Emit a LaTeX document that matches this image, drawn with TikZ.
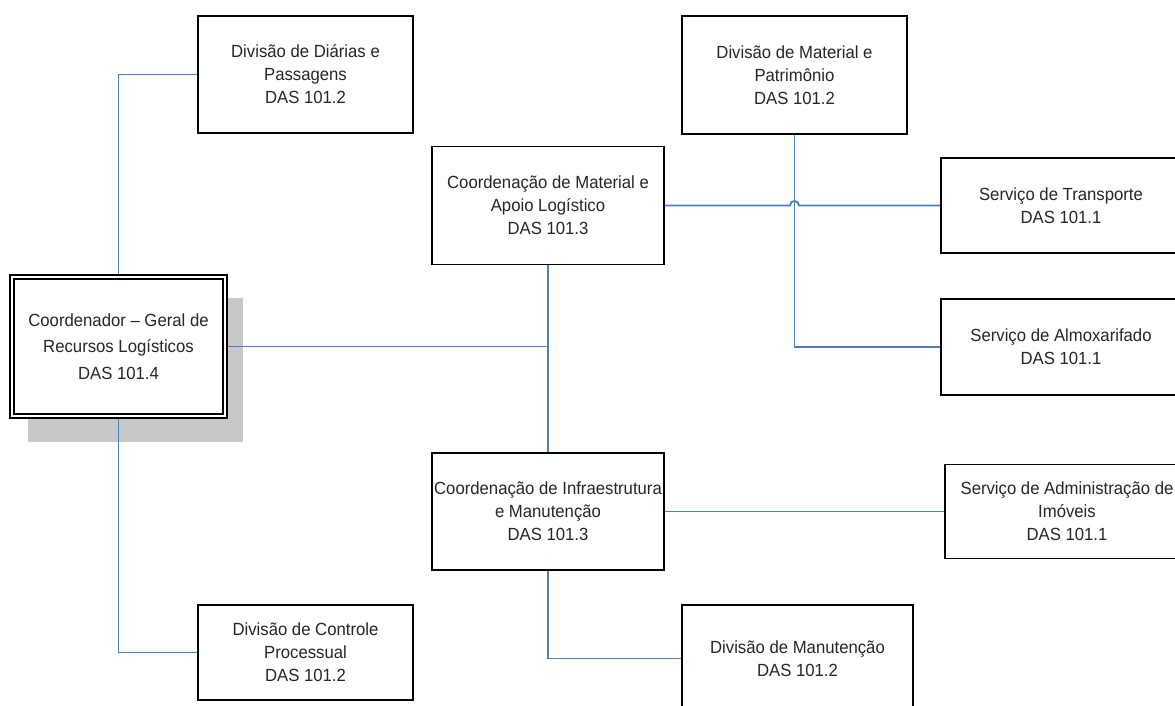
\documentclass[tikz,border=0pt]{standalone}
\usepackage{fontspec}
\setmainfont[FakeStretch=0.95]{Liberation Sans}
\definecolor{linkblue}{HTML}{4A7EC0}
\definecolor{shadowgray}{HTML}{C8C8C8}
\definecolor{txt}{HTML}{262626}
\begin{document}
\begin{tikzpicture}[x=1pt,y=-1pt,
  orgbox/.style={draw=black, line width=1.6pt, fill=white, rectangle, align=center, text=txt,
    font=\fontsize{17.6}{23}\selectfont, inner sep=0pt},
  link/.style={draw=linkblue, line width=1.8pt}]
\useasboundingbox (0,0) rectangle (1175,706);
\clip (0,0) rectangle (1175,706);

% shadow of root
\fill[shadowgray] (28,298) rectangle (243,442);

% nodes
\node[orgbox, minimum width=217pt, minimum height=143pt, line width=2pt,
  font=\fontsize{17.6}{26.5}\selectfont] (root) at (118.5,346.5)
  {Coordenador -- Geral de\\Recursos Logísticos\\DAS 101.4};
\draw[line width=1.4pt] (14,279) rectangle (223,414);

\node[orgbox, minimum width=215pt, minimum height=117pt] (dia) at (305.5,74.5)
  {Divisão de Diárias e\\Passagens\\DAS 101.2};
\node[orgbox, minimum width=215pt, minimum height=95pt] (ctl) at (305.5,652.5)
  {Divisão de Controle\\Processual\\DAS 101.2};
\node[orgbox, minimum width=232pt, minimum height=118pt] (cm) at (548,205.5)
  {Coordenação de Material e\\Apoio Logístico\\DAS 101.3};
\node[orgbox, minimum width=232pt, minimum height=117pt] (ci) at (548,511.5)
  {Coordenação de Infraestrutura\\e Manutenção\\DAS 101.3};
\node[orgbox, minimum width=225pt, minimum height=118pt] (dm) at (794.5,75)
  {Divisão de Material e\\Patrimônio\\DAS 101.2};
\node[orgbox, minimum width=240pt, minimum height=95pt] (tr) at (1061,205.5)
  {Serviço de Transporte\\DAS 101.1};
\node[orgbox, minimum width=240pt, minimum height=96pt] (al) at (1061,347)
  {Serviço de Almoxarifado\\DAS 101.1};
\node[orgbox, minimum width=244pt, minimum height=94pt] (ad) at (1067,511.5)
  {Serviço de Administração de\\Imóveis\\DAS 101.1};
\node[orgbox, minimum width=231pt, minimum height=107pt] (mn) at (797.5,658.5)
  {Divisão de Manutenção\\DAS 101.2};

% connectors
\coordinate (trunk) at (548,346.5);
\coordinate (jumpL) at (790,205.5);
\coordinate (jumpR) at (799,205.5);
\path[link] (root.north) |- (dia.west);
\path[link] (root.south) |- (ctl.west);
\path[link] (root.east) -- (trunk);
\path[link] (cm.south) -- (ci.north);
\path[link] (dm.south) |- (al.west);
\path[link] (cm.east) -- (jumpL) .. controls (790,199.5) and (799,199.5) .. (jumpR) -- (tr.west);
\path[link] (ci.east) -- (ad.west);
\path[link] (ci.south) |- (mn.west);
\end{tikzpicture}
\end{document}
